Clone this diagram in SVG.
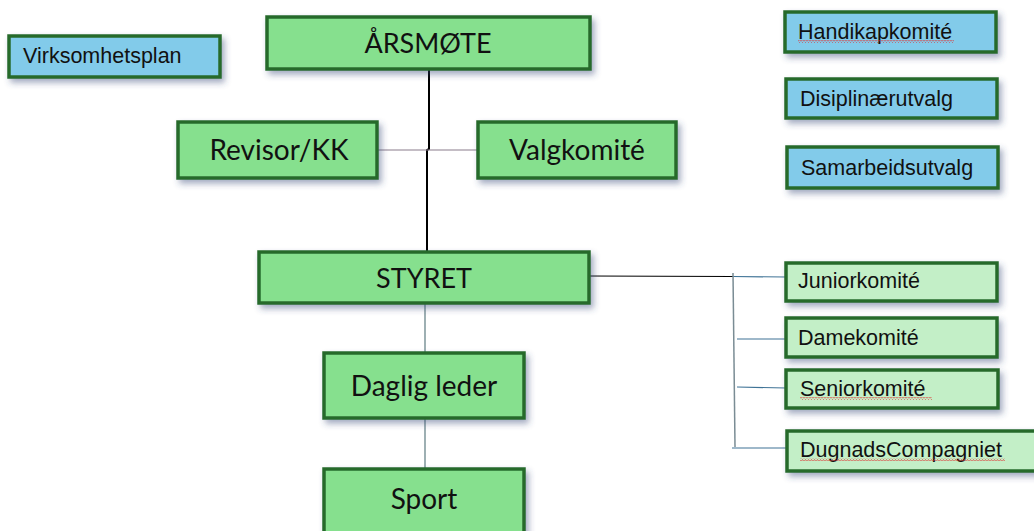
<svg xmlns="http://www.w3.org/2000/svg" width="1034" height="531" viewBox="0 0 1034 531">
<style>
.box{stroke:#276b2c;stroke-width:3.5;filter:url(#sh)}
.g{fill:#86e08e}
.lg{fill:#c3efc7}
.b{fill:#82cbea}
.big{font-family:Lato,"Open Sans",sans-serif;font-size:27px;fill:#111;text-anchor:middle}
.sm{font-family:"Liberation Sans",Arial,sans-serif;font-size:21.5px;fill:#111}
.wave{fill:url(#wv)}
</style>
<defs>
<filter id="sh" x="-10%" y="-30%" width="130%" height="170%">
<feDropShadow dx="3" dy="4" stdDeviation="3" flood-color="#334477" flood-opacity="0.45"/>
</filter>
<pattern id="wv" width="3" height="3" patternUnits="userSpaceOnUse">
<path d="M0,2.5 L1.5,0.5 L3,2.5" fill="none" stroke="#e03030" stroke-width="0.7"/>
</pattern>
</defs>
<rect width="1034" height="531" fill="#ffffff"/>
<g id="connectors" fill="none">
<polyline points="429,69 429,149 427,150 427,252" stroke="#000" stroke-width="2"/>
<line x1="377" y1="150" x2="478" y2="150" stroke="#8a7c8c" stroke-width="1.2"/>
<line x1="425" y1="303" x2="425" y2="353" stroke="#5d7b80" stroke-width="1.2"/>
<line x1="425" y1="418" x2="425" y2="469" stroke="#5d7b80" stroke-width="1.2"/>
<line x1="589" y1="276" x2="733" y2="276.5" stroke="#000" stroke-width="1.2"/>
<line x1="733" y1="276.5" x2="786" y2="277" stroke="#3f7396" stroke-width="1.2"/>
<line x1="733" y1="273" x2="735" y2="447" stroke="#7a8c94" stroke-width="1.5"/>
<line x1="737" y1="339" x2="786" y2="339" stroke="#3f7396" stroke-width="1.2"/>
<line x1="737" y1="387" x2="786" y2="388" stroke="#3f7396" stroke-width="1.2"/>
<line x1="732" y1="448" x2="786" y2="448" stroke="#3f7396" stroke-width="1.2"/>
<line x1="797" y1="265" x2="853" y2="265" stroke="#3f7396" stroke-width="1.2"/>
</g>
<g id="virksomhetsplan"><rect class="box b" x="9" y="36" width="211" height="41"/><text class="sm" x="23" y="63">Virksomhetsplan</text></g>
<g id="arsmote"><rect class="box g" x="267" y="17" width="323" height="52"/><text class="big" x="428" y="53">ÅRSMØTE</text></g>
<g id="revisor"><rect class="box g" x="178" y="122" width="199" height="56"/><text class="big" x="279" y="160" style="font-size:28px">Revisor/KK</text></g>
<g id="valgkomite"><rect class="box g" x="478" y="122" width="198" height="56"/><text class="big" x="577" y="160" style="font-size:28px">Valgkomité</text></g>
<g id="styret"><rect class="box g" x="259" y="252" width="330" height="51"/><text class="big" x="424" y="288">STYRET</text></g>
<g id="daglig-leder"><rect class="box g" x="324" y="353" width="200" height="65"/><text class="big" x="424" y="396" style="font-size:28px">Daglig leder</text></g>
<g id="sport"><rect class="box g" x="324" y="469" width="200" height="70"/><text class="big" x="424" y="509" style="font-size:28px">Sport</text></g>
<g id="handikapkomite"><rect class="box b" x="785" y="12" width="211" height="40"/><text class="sm" x="798" y="39">Handikapkomité</text><rect class="wave" x="798" y="40" width="156" height="3"/></g>
<g id="disiplinaerutvalg"><rect class="box b" x="786" y="79" width="211" height="39"/><text class="sm" x="800" y="106">Disiplinærutvalg</text></g>
<g id="samarbeidsutvalg"><rect class="box b" x="787" y="147" width="211" height="41"/><text class="sm" x="801" y="175">Samarbeidsutvalg</text></g>
<g id="juniorkomite"><rect class="box lg" x="786" y="263" width="211" height="38"/><text class="sm" x="798" y="288">Juniorkomité</text></g>
<g id="damekomite"><rect class="box lg" x="786" y="318" width="211" height="39"/><text class="sm" x="798" y="345">Damekomité</text></g>
<g id="seniorkomite"><rect class="box lg" x="786" y="370" width="212" height="38"/><text class="sm" x="800" y="396">Seniorkomité</text><rect class="wave" x="800" y="397" width="132" height="3"/></g>
<g id="dugnadscompagniet"><rect class="box lg" x="787" y="431" width="260" height="40"/><text class="sm" x="800" y="457">DugnadsCompagniet</text><rect class="wave" x="800" y="458" width="205" height="3"/></g>
</svg>
